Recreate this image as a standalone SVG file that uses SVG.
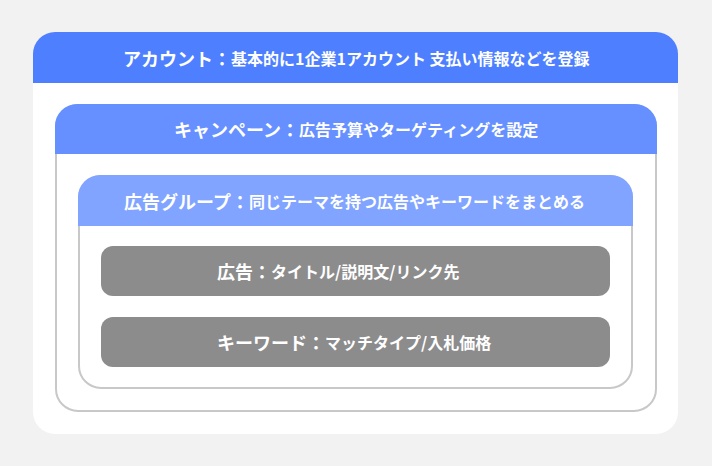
<svg xmlns="http://www.w3.org/2000/svg" width="712" height="466" viewBox="0 0 712 466">
  <style>
    text { font-family: "Noto Sans CJK JP", "Noto Sans", sans-serif; font-weight: 700; fill: #ffffff; dominant-baseline: central; }
    .big { font-size: 18px; }
    .small { font-size: 16px; }
    .frame { fill: #ffffff; stroke: #c8c8c8; stroke-width: 2; }
    .leaf { fill: #8c8c8c; }
  </style>
  <rect x="0" y="0" width="712" height="466" fill="#f2f2f2"/>
  <g id="account">
    <rect x="33" y="32" width="645" height="402" rx="22" fill="#ffffff"/>
    <path d="M33 83 V54 A22 22 0 0 1 55 32 H656 A22 22 0 0 1 678 54 V83 Z" fill="#4d7fff"/>
    <text x="123" y="57.5"><tspan class="big">アカウント：</tspan><tspan class="small">基本的に1企業1アカウント 支払い情報などを登録</tspan></text>
  </g>
  <g id="campaign">
    <rect class="frame" x="56" y="105" width="600" height="306" rx="22"/>
    <path d="M55 154 V126 A22 22 0 0 1 77 104 H635 A22 22 0 0 1 657 126 V154 Z" fill="#6690ff"/>
    <text x="174" y="129"><tspan class="big">キャンペーン：</tspan><tspan class="small">広告予算やターゲティングを設定</tspan></text>
  </g>
  <g id="adgroup">
    <rect class="frame" x="79" y="176" width="553" height="212" rx="22"/>
    <path d="M78 226 V197 A22 22 0 0 1 100 175 H611 A22 22 0 0 1 633 197 V226 Z" fill="#80a4ff"/>
    <text x="124" y="200.5"><tspan class="big">広告グループ：</tspan><tspan class="small">同じテーマを持つ広告やキーワードをまとめる</tspan></text>
  </g>
  <g id="ad">
    <rect class="leaf" x="101" y="246" width="509" height="50" rx="12"/>
    <text x="217" y="271"><tspan class="big">広告：</tspan><tspan class="small">タイトル/説明文/リンク先</tspan></text>
  </g>
  <g id="keyword">
    <rect class="leaf" x="101" y="317" width="509" height="50" rx="12"/>
    <text x="217" y="342"><tspan class="big">キーワード：</tspan><tspan class="small">マッチタイプ/入札価格</tspan></text>
  </g>
  <g id="connectors"></g>
</svg>
